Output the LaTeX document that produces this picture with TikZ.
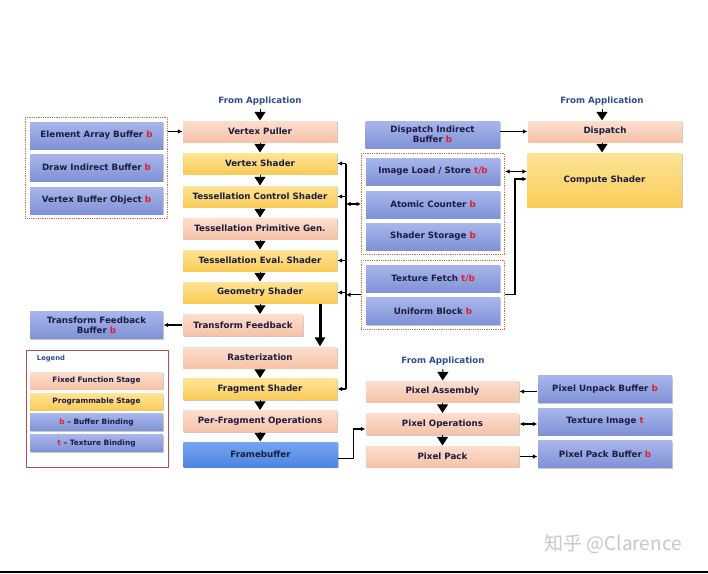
\documentclass[tikz,border=0pt]{standalone}
\usepackage{fontspec}
\setmainfont{DejaVu Sans}
\newfontfamily\cjkfont{Noto Sans CJK SC}
\usetikzlibrary{arrows.meta}
\usetikzlibrary{shadows}
\usetikzlibrary{fit}

\definecolor{fixedc}{RGB}{246,194,168}
\definecolor{fixedl}{RGB}{252,222,206}
\definecolor{progc}{RGB}{249,204,88}
\definecolor{progl}{RGB}{253,228,150}
\definecolor{bufc}{RGB}{128,146,214}
\definecolor{bufl}{RGB}{168,182,236}
\definecolor{fbc}{RGB}{78,133,226}
\definecolor{fbl}{RGB}{118,164,240}
\definecolor{navy}{RGB}{28,28,64}
\definecolor{appc}{RGB}{46,78,140}
\definecolor{bred}{RGB}{226,30,40}
\definecolor{grpc}{RGB}{200,110,90}
\definecolor{legc}{RGB}{176,80,80}

\begin{document}
\begin{tikzpicture}[x=1pt,y=-1pt,line width=1.2pt,>={Latex[length=4.5pt,width=4.5pt]},
  box/.style={rectangle,inner sep=0pt,text=navy,align=center,
    font=\bfseries\fontsize{8.7}{9.8}\selectfont,
    drop shadow={shadow xshift=1.2pt,shadow yshift=-1.2pt,opacity=0.35,fill=black!60}},
  fixed/.style={box,top color=fixedl,bottom color=fixedc,minimum width=154pt,minimum height=21pt},
  prog/.style={box,top color=progl,bottom color=progc,minimum width=154pt,minimum height=21pt},
  buf/.style={box,top color=bufl,bottom color=bufc,minimum width=134pt,minimum height=27pt},
  legitem/.style={minimum width=133pt,minimum height=17pt,font=\bfseries\fontsize{7.4}{8}\selectfont},
  app/.style={text=appc,font=\bfseries\fontsize{8.7}{10}\selectfont},
  grp/.style={draw=grpc,densely dotted,line width=0.8pt,inner sep=4pt},
  flow/.style={-{Triangle[width=11pt,length=8.5pt]},line width=1pt},
  big/.style={-{Triangle[width=10pt,length=9pt]},line width=3pt}]
\useasboundingbox (0,0) rectangle (708,573);
\fill (0,571) rectangle (708,573);

\node[app] (fromA) at (260,101) {From Application};
\node[fixed] (vp) at (260,131.5) {Vertex Puller};
\node[prog] (vs) at (260,163.5) {Vertex Shader};
\node[prog] (tcs) at (260,196.5) {Tessellation Control Shader};
\node[fixed] (tpg) at (260,228.5) {Tessellation Primitive Gen.};
\node[prog] (tes) at (260,260.5) {Tessellation Eval.\ Shader};
\node[prog] (gs) at (260,292.5) {Geometry Shader};
\node[fixed,minimum width=120pt] (tf) at (243,325) {Transform Feedback};
\node[fixed] (rast) at (260,357.5) {Rasterization};
\node[prog] (fs) at (260,389) {Fragment Shader};
\node[fixed] (pfo) at (260,421) {Per-Fragment Operations};
\node[box,top color=fbl,bottom color=fbc,minimum width=154pt,minimum height=25pt] (fb) at (260.5,454.5) {Framebuffer};

\node[buf,minimum width=133pt] (eab) at (96.5,135.5) {Element Array Buffer \textcolor{bred}{b}};
\node[buf,minimum width=133pt] (dib0) at (96.5,167.5) {Draw Indirect Buffer \textcolor{bred}{b}};
\node[buf,minimum width=133pt] (vbo) at (96.5,200.5) {Vertex Buffer Object \textcolor{bred}{b}};
\node[grp,fit=(eab)(vbo)] (grp0) {};
\node[buf,minimum width=133pt] (tfb) at (96.5,325) {Transform Feedback\\Buffer \textcolor{bred}{b}};

\node[draw=legc,line width=1pt,minimum width=142pt,minimum height=117pt] (leg) at (97,408.5) {};
\node[anchor=west,text=appc,font=\bfseries\fontsize{6.8}{8}\selectfont] (legT) at (33,359) {Legend};
\node[fixed,legitem] (legA) at (96.5,380.5) {Fixed Function Stage};
\node[prog,legitem] (legB) at (96.5,401.5) {Programmable Stage};
\node[buf,legitem] (legC) at (96.5,422) {\textcolor{bred}{b} -- Buffer Binding};
\node[buf,legitem] (legD) at (96.5,443) {\textcolor{bred}{t} -- Texture Binding};

\node[app] (fromB) at (602,101) {From Application};
\node[buf] (dib) at (432.5,134.5) {Dispatch Indirect\\Buffer \textcolor{bred}{b}};
\node[fixed] (disp) at (605,131.5) {Dispatch};
\node[prog,minimum height=54pt] (cs) at (604.5,180) {Compute Shader};
\node[buf] (ils) at (433,171.5) {Image Load / Store \textcolor{bred}{t/b}};
\node[buf] (ac) at (433,204.5) {Atomic Counter \textcolor{bred}{b}};
\node[buf] (ssb) at (433,236.5) {Shader Storage \textcolor{bred}{b}};
\node[grp,fit=(ils)(ssb)] (grp1) {};
\node[buf] (tfe) at (433,278.5) {Texture Fetch \textcolor{bred}{t/b}};
\node[buf] (ub) at (433,311) {Uniform Block \textcolor{bred}{b}};
\node[grp,fit=(tfe)(ub)] (grp2) {};

\node[app] (fromC) at (443,361) {From Application};
\node[fixed,minimum width=153pt] (pa) at (442.5,391.5) {Pixel Assembly};
\node[fixed,minimum width=153pt] (po) at (442.5,424) {Pixel Operations};
\node[fixed,minimum width=153pt] (pp) at (442.5,456.5) {Pixel Pack};
\node[buf] (pub) at (605,389) {Pixel Unpack Buffer \textcolor{bred}{b}};
\node[buf] (ti) at (605,421.5) {Texture Image \textcolor{bred}{t}};
\node[buf] (ppb) at (605,454) {Pixel Pack Buffer \textcolor{bred}{b}};

\node[text=black!22,font=\cjkfont\fontsize{19}{19}\selectfont] (wm) at (613,544) {知乎 @Clarence};

\draw[flow] (fromA) -- (vp);
\draw[flow] (vp) -- (vs);
\draw[flow] (vs) -- (tcs);
\draw[flow] (tcs) -- (tpg);
\draw[flow] (tpg) -- (tes);
\draw[flow] (tes) -- (gs);
\draw[flow] (gs.south) -- (gs.south |- tf.north);
\draw[flow] (rast) -- (fs);
\draw[flow] (fs) -- (pfo);
\draw[flow] (pfo) -- (fb);
\draw[big] ([xshift=60pt]gs.south) -- ([xshift=60pt]rast.north);
\draw[flow] (fromB.south) -- (fromB.south |- disp.north);
\draw[flow] (fromB.south |- disp.south) -- (fromB.south |- cs.north);
\draw[flow] (fromC) -- (pa);
\draw[flow] (pa) -- (po);
\draw[flow] (po) -- (pp);

\coordinate (busT) at (346,163.5);
\coordinate (busB) at (346,389);
\draw (busT) -- (busB);
\foreach \n in {vs,tcs,tes,gs,fs}
  \draw[->] (\n.east -| busT) -- (\n.east);
\draw[<->] (busT |- grp1.west) -- (grp1.west);
\draw[->] (grp2.west) -- (grp2.west -| busT);
\draw[<->] (grp1.east |- ils.east) -- (cs.west |- ils.east);
\draw[->] (grp2.east) -| ([xshift=-12pt,yshift=1pt]cs.west) -- ([yshift=1pt]cs.west);
\draw[->] (grp0.east |- vp.west) -- (vp.west);
\draw[->] (dib.east |- disp.west) -- (disp.west);
\draw[->] (tf.west) -- (tfb.east);
\draw[->] ([yshift=-4pt]fb.east) -| ([xshift=-12pt,yshift=-5pt]po.west) -- ([yshift=-5pt]po.west);
\draw[->] (pub.west |- pa.east) -- (pa.east);
\draw[<->] (po.east) -- (ti.west |- po.east);
\draw[->] (pp.east) -- (ppb.west |- pp.east);
\end{tikzpicture}
\end{document}
